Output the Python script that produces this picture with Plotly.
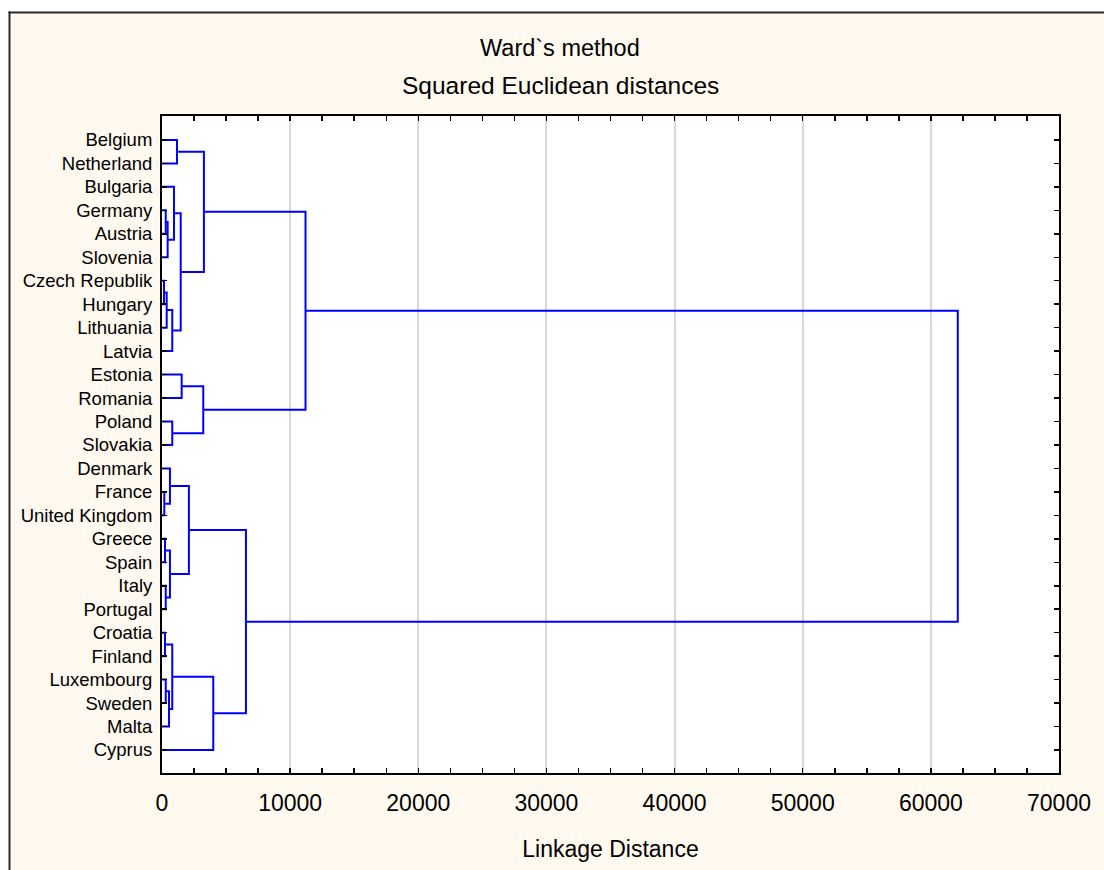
import plotly.graph_objects as go

# ---- data ----
labels = ["Belgium", "Netherland", "Bulgaria", "Germany", "Austria", "Slovenia",
          "Czech Republik", "Hungary", "Lithuania", "Latvia", "Estonia", "Romania",
          "Poland", "Slovakia", "Denmark", "France", "United Kingdom", "Greece",
          "Spain", "Italy", "Portugal", "Croatia", "Finland", "Luxembourg",
          "Sweden", "Malta", "Cyprus"]

# linkage: new cluster ids start at len(labels)=27, in this order
merge_left = [6, 15, 17, 21, 3, 19, 23, 27, 31, 33, 14, 29, 34, 12, 30, 2, 0, 42, 10, 37, 45, 43, 41, 46, 48, 51]
merge_right = [7, 16, 18, 22, 4, 20, 24, 8, 5, 25, 28, 32, 9, 13, 36, 35, 1, 39, 11, 38, 40, 44, 26, 49, 47, 50]
merge_dist = [155, 180, 235, 235, 290, 290, 290, 365, 440, 545, 620, 620, 800, 800, 800,
              935, 1170, 1460, 1535, 2100, 3220, 3270, 4000, 6550, 11200, 62100]

x_tick_vals = [0, 10000, 20000, 30000, 40000, 50000, 60000, 70000]

# ---- build dendrogram segments ----
n = len(labels)
node_y = {i: float(i) for i in range(n)}
node_h = {i: 0.0 for i in range(n)}
xs, ys = [], []
for k, (a, b, d) in enumerate(zip(merge_left, merge_right, merge_dist)):
    cid = n + k
    xs += [node_h[a], d, d, node_h[b], None]
    ys += [node_y[a], node_y[a], node_y[b], node_y[b], None]
    node_y[cid] = (node_y[a] + node_y[b]) / 2
    node_h[cid] = d

fig = go.Figure()
fig.add_trace(go.Scatter(x=xs, y=ys, mode="lines",
                         line=dict(color="#0000FF", width=2),
                         hoverinfo="skip", showlegend=False))

W, H = 1104, 870
L, R, T, B = 162, 45, 116, 97
pw, ph = W - L - R, H - T - B


def px_x(p):
    return (p - L) / pw


def px_y(p):
    return (H - B - p) / ph


font_family = "Liberation Sans, Arial, sans-serif"

fig.update_layout(
    width=W, height=H, autosize=False,
    margin=dict(l=L, r=R, t=T, b=B, pad=0),
    paper_bgcolor="#FFF9EF",
    plot_bgcolor="#FFFFFF",
    font=dict(family=font_family, color="#000000"),
    showlegend=False,
    xaxis=dict(
        range=[0, 70000],
        tickvals=x_tick_vals,
        ticktext=[str(v) for v in x_tick_vals],
        ticks="inside", ticklen=5, tickwidth=1.5, tickcolor="#000000",
        minor=dict(dtick=2500, tick0=0, ticks="inside", ticklen=5, tickwidth=1.5,
                   tickcolor="#000000", showgrid=False),
        showline=True, linecolor="#000000", linewidth=2, mirror="ticks",
        showgrid=True, gridcolor="#D9D9D9", gridwidth=2,
        zeroline=False,
        tickfont=dict(size=23, family=font_family),
        ticklabelstandoff=8,
        title=dict(text="Linkage Distance", font=dict(size=23, family=font_family),
                   standoff=26),
    ),
    yaxis=dict(
        range=[26.98, -1.02],
        tickvals=list(range(n)),
        ticktext=labels,
        ticks="inside", ticklen=5, tickwidth=1.5, tickcolor="#000000",
        showline=True, linecolor="#000000", linewidth=2, mirror="ticks",
        showgrid=False, zeroline=False,
        tickfont=dict(size=18.5, family=font_family),
        ticklabelstandoff=4,
    ),
    annotations=[
        dict(text="Ward`s method", xref="paper", yref="paper",
             x=px_x(560), y=px_y(48), xanchor="center", yanchor="middle",
             showarrow=False, font=dict(size=23.5, family=font_family)),
        dict(text="Squared Euclidean distances", xref="paper", yref="paper",
             x=px_x(560), y=px_y(86), xanchor="center", yanchor="middle",
             showarrow=False, font=dict(size=24.5, family=font_family)),
    ],
    shapes=[
        # white strips outside the outer frame
        dict(type="rect", xref="paper", yref="paper", x0=px_x(-2), x1=px_x(9),
             y0=px_y(H + 2), y1=px_y(-2), fillcolor="#FFFFFF", line=dict(width=0),
             layer="below"),
        dict(type="rect", xref="paper", yref="paper", x0=px_x(-2), x1=px_x(W + 2),
             y0=px_y(12), y1=px_y(-2), fillcolor="#FFFFFF", line=dict(width=0),
             layer="below"),
        # outer frame lines
        dict(type="line", xref="paper", yref="paper", x0=px_x(9.5), x1=px_x(9.5),
             y0=px_y(11.5), y1=px_y(H + 2), line=dict(color="#2A2A2A", width=2)),
        dict(type="line", xref="paper", yref="paper", x0=px_x(8.5), x1=px_x(W + 2),
             y0=px_y(12.5), y1=px_y(12.5), line=dict(color="#2A2A2A", width=2)),
    ],
)

fig.write_html("out.html",
               config={"displayModeBar": False, "staticPlot": True},
               post_script="document.body.style.margin='0px';"
                           "document.body.style.overflow='hidden';")
